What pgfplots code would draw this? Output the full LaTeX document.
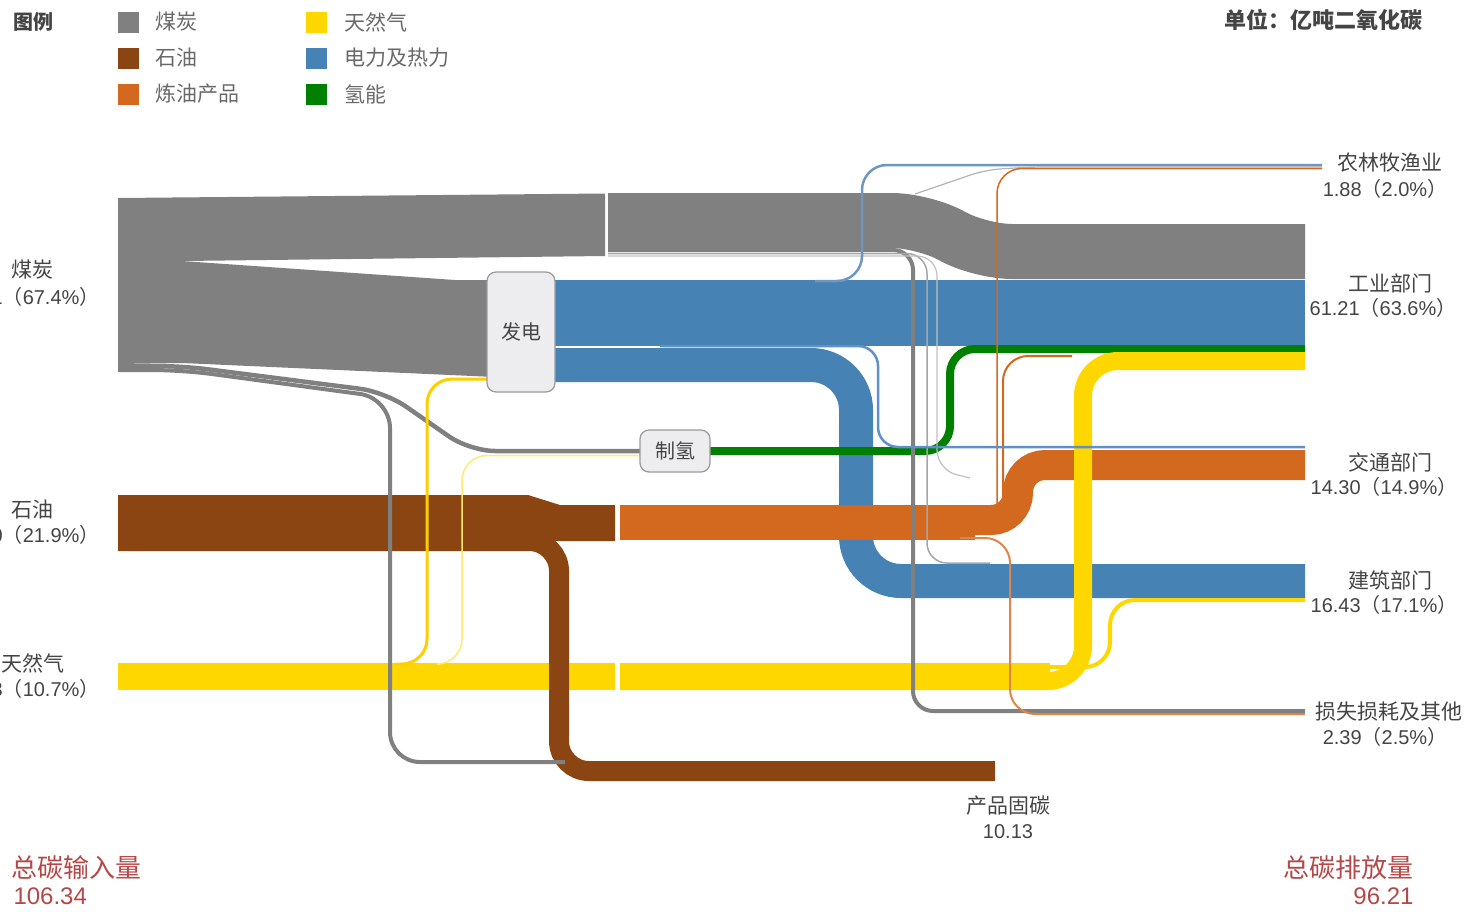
\documentclass[border=0pt]{standalone}
\usepackage{fontspec}
\setmainfont{Liberation Sans}
\newfontfamily\cjk{Noto Sans CJK SC}
\usepackage{pgfplots}
\pgfplotsset{compat=1.18}
\definecolor{coal}{HTML}{808080}
\definecolor{oil}{HTML}{8B4513}
\definecolor{refined}{HTML}{D2691E}
\definecolor{gas}{HTML}{FFD700}
\definecolor{power}{HTML}{4682B4}
\definecolor{hydro}{HTML}{008000}
\definecolor{txt}{HTML}{444444}
\definecolor{redtxt}{HTML}{B44848}
\definecolor{boxfill}{HTML}{EDEDF0}
\definecolor{boxdraw}{HTML}{9A9A9A}
\newcommand{\cn}[1]{{\cjk #1}}
\newcommand{\fs}[1]{\fontsize{#1}{#1}\selectfont}
\begin{document}
\begin{tikzpicture}
\begin{axis}[name=ax, at={(0,0)}, anchor=south west, scale only axis,
  width=1473pt, height=911pt, xmin=0, xmax=1473, ymin=0, ymax=911,
  y dir=reverse, hide axis, clip=false,
  every axis plot/.append style={no markers, line cap=butt}]
% ---------- coal ----------
\addplot[fill=coal, draw=none] coordinates {(118,198) (605,193.5) (605,256) (182,261) (118,261)} -- cycle;
\addplot[fill=coal, draw=none] coordinates {(118,261) (182,261) (455,280) (495,280) (495,377) (182,363) (118,364)} -- cycle;
\addplot[coal, line width=55pt, rounded corners=30pt] coordinates {(608,220.5) (922,220.5) (982,251.5) (1305,251.5)};
% ---------- power ----------
\addplot[power, line width=66pt] coordinates {(550,313) (1305,313)};
\addplot[power, line width=34pt, rounded corners=45pt] coordinates {(550,365) (856,365) (856,581) (1305,581)};
% ---------- hydrogen ----------
\addplot[hydro, line width=8pt, rounded corners=25pt] coordinates {(705,451) (950,451) (950,349) (1305,349)};
% ---------- gas (base) ----------
\addplot[gas, line width=27pt] coordinates {(118,676.5) (615,676.5)};
\addplot[gas, line width=27pt] coordinates {(620,676.5) (1050,676.5)};
% ---------- oil ----------
\addplot[fill=oil, draw=none] coordinates {(118,495) (528,495) (560,505) (615,505) (615,541) (118,541)} -- cycle;
\addplot[oil, line width=20pt, rounded corners=30pt] coordinates {(118,541) (559,541) (559,771) (995,771)};
% ---------- refined ----------
\addplot[refined, line width=35pt] coordinates {(620,522.5) (975,522.5)};
\addplot[refined, line width=30pt, rounded corners=27pt] coordinates {(620,520) (1018,520) (1018,465) (1305,465)};
% ---------- gas to industry / buildings ----------
\addplot[gas, line width=18pt, rounded corners=35pt] coordinates {(620,681) (1083,681) (1083,361) (1305,361)};
\addplot[gas, line width=4pt, rounded corners=25pt] coordinates {(1040,667) (1110,667) (1110,600) (1305,600)};
% ---------- thin flows ----------
\addplot[coal, line width=4.5pt, rounded corners=25pt] coordinates {(118,366) (182,366) (385,392) (470,451) (640,451)};
\addplot[gas!55!white, line width=1.5pt, rounded corners=25pt] coordinates {(440,664) (462,664) (462,455.5) (640,455.5)};
\addplot[coal, line width=4pt, rounded corners=30pt] coordinates {(118,370) (182,370) (390,398) (390,762) (565,762)};
\addplot[gas!90!orange, line width=3pt, rounded corners=25pt] coordinates {(395,664) (427,664) (427,379) (492,379)};
\addplot[coal, line width=4pt, rounded corners=20pt] coordinates {(608,250) (913,250) (913,711) (1305,711)};
\addplot[coal!70, line width=1.5pt, rounded corners=20pt] coordinates {(608,253.5) (927,253.5) (927,563) (990,563)};
\addplot[coal!50, line width=1.2pt, rounded corners=20pt] coordinates {(608,256) (937,256) (937,470) (970,478)};
\addplot[color={rgb,255:red,110;green,150;blue,195}, line width=2.5pt, rounded corners=25pt] coordinates {(815,281) (862,281) (862,165) (1322,165)};
\addplot[coal!60, line width=1.2pt, rounded corners=15pt] coordinates {(915,194) (985,170) (1030,167) (1322,167)};
\addplot[refined, line width=1.5pt, rounded corners=25pt] coordinates {(960,530) (997,530) (997,168.5) (1322,168.5)};
\addplot[refined, line width=2pt, rounded corners=25pt] coordinates {(960,534) (1003,534) (1003,356) (1072,356)};
\addplot[refined!80, line width=2pt, rounded corners=25pt] coordinates {(960,538) (1010,538) (1010,714) (1305,714)};
\addplot[color={rgb,255:red,95;green,145;blue,200}, line width=2.5pt, rounded corners=20pt] coordinates {(660,346) (878,346) (878,447) (1305,447)};
% ---------- legend squares ----------
\addplot[fill=coal, draw=none] coordinates {(118,12) (139,12) (139,33) (118,33)} -- cycle;
\addplot[fill=oil, draw=none] coordinates {(118,48) (139,48) (139,69) (118,69)} -- cycle;
\addplot[fill=refined, draw=none] coordinates {(118,84) (139,84) (139,105) (118,105)} -- cycle;
\addplot[fill=gas, draw=none] coordinates {(306,12) (327,12) (327,33) (306,33)} -- cycle;
\addplot[fill=power, draw=none] coordinates {(306,48) (327,48) (327,69) (306,69)} -- cycle;
\addplot[fill=hydro, draw=none] coordinates {(306,84) (327,84) (327,105) (306,105)} -- cycle;
% ---------- boxes ----------
\node[draw=boxdraw, fill=boxfill, rounded corners=9pt, line width=1.2pt, minimum width=68pt, minimum height=120pt, inner sep=0pt, text=txt, font=\fs{20}] at (axis cs:521,332) {\cn{发电}};
\node[draw=boxdraw, fill=boxfill, rounded corners=9pt, line width=1.2pt, minimum width=70pt, minimum height=42pt, inner sep=0pt, text=txt, font=\fs{20}] at (axis cs:675,451) {\cn{制氢}};
% ---------- legend text ----------
\node[anchor=west, text=txt, font=\fs{20}\bfseries] at (axis cs:10,22) {\cn{图例}};
\node[anchor=west, text=txt!80, font=\fs{21}] at (axis cs:152,22) {\cn{煤炭}};
\node[anchor=west, text=txt!80, font=\fs{21}] at (axis cs:152,58) {\cn{石油}};
\node[anchor=west, text=txt!80, font=\fs{21}] at (axis cs:152,94) {\cn{炼油产品}};
\node[anchor=west, text=txt!80, font=\fs{21}] at (axis cs:341,22) {\cn{天然气}};
\node[anchor=west, text=txt!80, font=\fs{21}] at (axis cs:341,58) {\cn{电力及热力}};
\node[anchor=west, text=txt!80, font=\fs{21}] at (axis cs:341,94) {\cn{氢能}};
\node[anchor=east, text=txt, font=\fs{22}\bfseries] at (axis cs:1426,20) {\cn{单位：亿吨二氧化碳}};
% ---------- left labels ----------
\node[text=txt, font=\fs{21}] at (axis cs:33,270) {\cn{煤炭}};
\node[anchor=east, text=txt, font=\fs{20}] at (axis cs:103,297) {71.71\cn{（}67.4\%\cn{）}};
\node[text=txt, font=\fs{21}] at (axis cs:33,510) {\cn{石油}};
\node[anchor=east, text=txt, font=\fs{20}] at (axis cs:103,535) {23.30\cn{（}21.9\%\cn{）}};
\node[text=txt, font=\fs{21}] at (axis cs:33,663) {\cn{天然气}};
\node[anchor=east, text=txt, font=\fs{20}] at (axis cs:103,689) {11.33\cn{（}10.7\%\cn{）}};
% ---------- right labels ----------
\node[text=txt, font=\fs{21}] at (axis cs:1390,163) {\cn{农林牧渔业}};
\node[text=txt, font=\fs{20}] at (axis cs:1385,189) {1.88\cn{（}2.0\%\cn{）}};
\node[text=txt, font=\fs{21}] at (axis cs:1390,283) {\cn{工业部门}};
\node[text=txt, font=\fs{20}] at (axis cs:1383,308) {61.21\cn{（}63.6\%\cn{）}};
\node[text=txt, font=\fs{21}] at (axis cs:1390,462) {\cn{交通部门}};
\node[text=txt, font=\fs{20}] at (axis cs:1384,487) {14.30\cn{（}14.9\%\cn{）}};
\node[text=txt, font=\fs{21}] at (axis cs:1390,580) {\cn{建筑部门}};
\node[text=txt, font=\fs{20}] at (axis cs:1384,605) {16.43\cn{（}17.1\%\cn{）}};
\node[text=txt, font=\fs{21}] at (axis cs:1389,712) {\cn{损失损耗及其他}};
\node[text=txt, font=\fs{20}] at (axis cs:1385,737) {2.39\cn{（}2.5\%\cn{）}};
\node[text=txt, font=\fs{21}] at (axis cs:1008,806) {\cn{产品固碳}};
\node[text=txt, font=\fs{20}] at (axis cs:1008,832) {10.13};
% ---------- totals ----------
\node[anchor=west, text=redtxt, font=\fs{26}] at (axis cs:8,868) {\cn{总碳输入量}};
\node[anchor=west, text=redtxt, font=\fs{24}] at (axis cs:10,896) {106.34};
\node[anchor=east, text=redtxt, font=\fs{26}] at (axis cs:1417,868) {\cn{总碳排放量}};
\node[anchor=east, text=redtxt, font=\fs{24}] at (axis cs:1417,896) {96.21};
\end{axis}
\pgfresetboundingbox
\path[use as bounding box] (ax.south west) rectangle (ax.north east);
\end{tikzpicture}
\end{document}
